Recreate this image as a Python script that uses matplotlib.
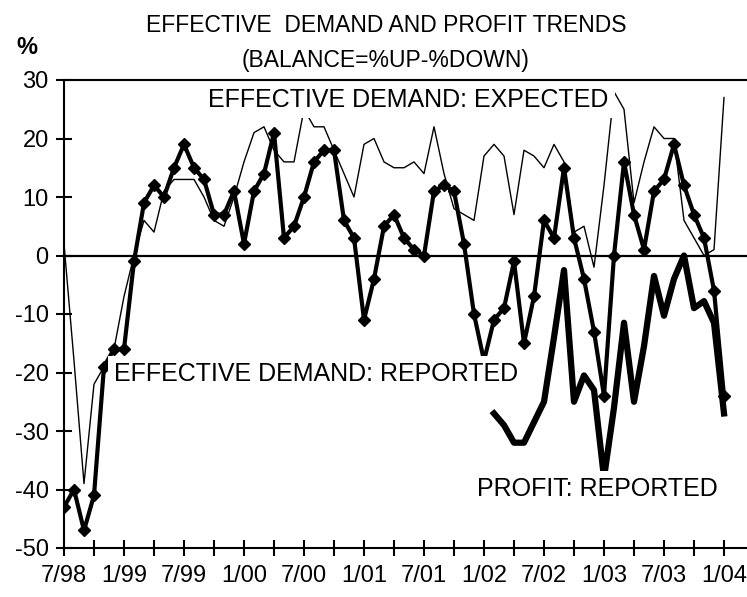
import matplotlib
matplotlib.use("Agg")
import matplotlib.pyplot as plt
import numpy as np

plt.rcParams['font.family'] = ['Liberation Sans', 'DejaVu Sans']
plt.rcParams['axes.unicode_minus'] = False

# monthly balances, 7/98 .. 1/04
tick_labels = ["7/98", "1/99", "7/99", "1/00", "7/00", "1/01",
               "7/01", "1/02", "7/02", "1/03", "7/03", "1/04"]

demand_reported = [-43, -40, -47, -41, -19, -16, -16, -1, 9, 12,
                   10, 15, 19, 15, 13, 7, 7, 11, 2, 11,
                   14, 21, 3, 5, 10, 16, 18, 18, 6, 3,
                   -11, -4, 5, 7, 3, 1, 0, 11, 12, 11,
                   2, -10, -18, -11, -9, -1, -15, -7, 6, 3,
                   15, 3, -4, -13, -24, 0, 16, 7, 1, 11,
                   13, 19, 12, 7, 3, -6, -24]

demand_expected = [2, -18, -39, -22, -19, -16, -7, 0, 6, 4,
                   11, 13, 13, 13, 10, 6, 5, 10, 16, 21,
                   22, 18, 16, 16, 25, 22, 22, 18, 14, 10,
                   19, 20, 16, 15, 15, 16, 14, 22, 14, 8,
                   7, 6, 17, 19, 17, 7, 18, 17, 15, 19,
                   16, 4, 5, -2, 12, 28, 25, 9, 16, 22,
                   20, 20, 6, 3, 0, 1, 27]

# profit series only starts in 2/02
profit_reported = [-27, -29, -32, -32, -28.5, -25, -14, -2.5, -25, -20.5,
                   -23, -38, -26, -11.5, -25, -15.5, -3.5, -10.3, -4, 0,
                   -9, -7.8, -11.5, -27]

months = np.arange(len(demand_reported))
profit_months = months[-len(profit_reported):]

fig = plt.figure(figsize=(7.47, 5.97), dpi=100)
ax = fig.add_axes([64/747, 49/597, 683/747, 468/597])

ax.plot(months, demand_expected, color='black', lw=1.0, zorder=3)
ax.plot(months, demand_reported, color='black', lw=3, marker='D', ms=6.5, zorder=4)
ax.plot(profit_months, profit_reported, color='black', lw=4.5, zorder=4)
ax.axhline(0, color='black', lw=1.6, zorder=2)

ax.set_xlim(0, 68.3)
ax.set_ylim(-50, 30)
ax.set_yticks(range(-50, 31, 10))
xt = list(range(0, 67, 3))
ax.set_xticks(xt)
ax.set_xticklabels([tick_labels[k // 6] if k % 6 == 0 else '' for k in xt])

ax.spines['right'].set_visible(False)
for s in ['left', 'bottom', 'top']:
    ax.spines[s].set_linewidth(1.5)
    ax.spines[s].set_zorder(10)
ax.tick_params(direction='inout', length=12, width=1.5, labelsize=17)
ax.tick_params(axis='x', pad=6)
ax.tick_params(axis='y', pad=5)

# labels sit on white boxes that hide the lines behind them
box = dict(boxstyle='square,pad=0.25', fc='white', ec='none')
ax.text(14.4, 26.6, 'EFFECTIVE DEMAND: EXPECTED', va='center', ha='left',
        fontsize=18, bbox=box, zorder=6)
ax.text(5.0, -20.3, 'EFFECTIVE DEMAND: REPORTED', va='center', ha='left',
        fontsize=18, bbox=box, zorder=6)
ax.text(41.3, -39.9, 'PROFIT: REPORTED', va='center', ha='left',
        fontsize=18, bbox=box, zorder=6)

fig.text(386/747, 1 - 25/597, 'EFFECTIVE  DEMAND AND PROFIT TRENDS',
         ha='center', va='center', fontsize=16.5)
fig.text(386/747, 1 - 61/597, '(BALANCE=%UP-%DOWN)',
         ha='center', va='center', fontsize=16.5)
fig.text(27/747, 1 - 48/597, '%', ha='center', va='center', fontsize=17,
         fontweight='bold')

fig.savefig('out.png', dpi=100)
